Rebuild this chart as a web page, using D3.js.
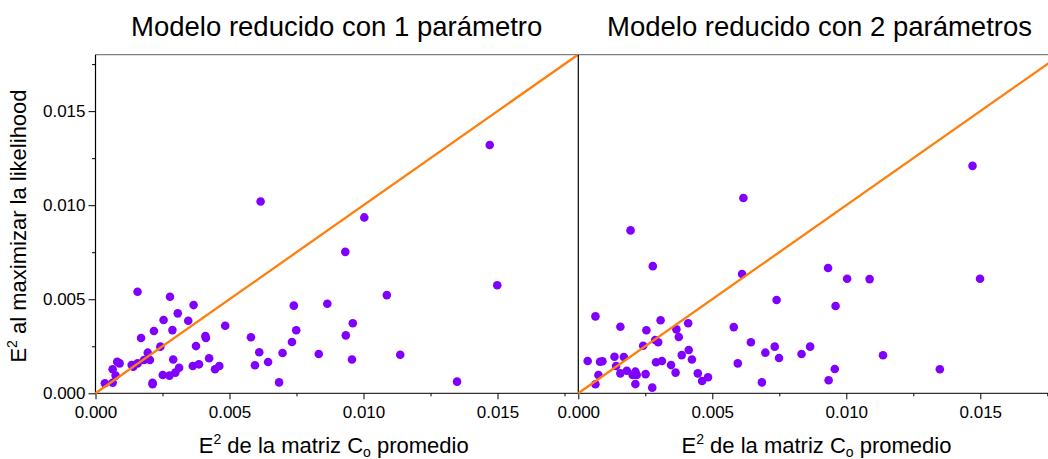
<!DOCTYPE html>
<html>
<head>
<meta charset="utf-8">
<script src="https://cdn.jsdelivr.net/npm/d3@7"></script>
<style>
  html, body { margin: 0; padding: 0; background: #fff; }
  svg { display: block; font-family: "Liberation Sans", Arial, sans-serif; }
</style>
</head>
<body>
<svg id="chart" width="1048" height="459"></svg>
<script>
// Squared error of the averaged C_o matrix (shared x for both panels)
const errMatriz = [
  0.00035, 0.00064, 0.00064, 0.00075, 0.00081, 0.00090, 0.00135, 0.00141, 0.00157, 0.00157,
  0.00170, 0.00181, 0.00195, 0.00203, 0.00213, 0.00213, 0.00218, 0.00242, 0.00251, 0.00254,
  0.00276, 0.00278, 0.00287, 0.00290, 0.00298, 0.00307, 0.00312, 0.00346, 0.00363, 0.00366,
  0.00375, 0.00386, 0.00410, 0.00412, 0.00424, 0.00446, 0.00462, 0.00484, 0.00580, 0.00595,
  0.00611, 0.00616, 0.00644, 0.00685, 0.00698, 0.00733, 0.00740, 0.00749, 0.00833, 0.00865,
  0.00932, 0.00934, 0.00960, 0.00957, 0.01003, 0.01087, 0.01137, 0.01349, 0.01471, 0.01499
];
// Squared error after maximizing the likelihood, 1-parameter reduced model
const errLik1 = [
  0.00053, 0.00056, 0.00128, 0.00094, 0.00168, 0.00159, 0.00150, 0.00141, 0.00159, 0.00540,
  0.00294, 0.00177, 0.00216, 0.00177, 0.00056, 0.00048, 0.00331, 0.00248, 0.00097, 0.00390,
  0.00094, 0.00513, 0.00336, 0.00180, 0.00110, 0.00425, 0.00136, 0.00386, 0.00145, 0.00469,
  0.00251, 0.00154, 0.00304, 0.00294, 0.00186, 0.00128, 0.00145, 0.00359, 0.00298, 0.00149,
  0.00218, 0.01020, 0.00166, 0.00058, 0.00214, 0.00273, 0.00466, 0.00335, 0.00209, 0.00476,
  0.00752, 0.00308, 0.00372, 0.00180, 0.00935, 0.00522, 0.00205, 0.00062, 0.01320, 0.00574
];
// Squared error after maximizing the likelihood, 2-parameter reduced model
const errLik2 = [
  0.00172, 0.00048, 0.00409, 0.00097, 0.00168, 0.00170, 0.00194, 0.00145, 0.00354, 0.00106,
  0.00193, 0.00120, 0.00866, 0.00097, 0.00049, 0.00115, 0.00097, 0.00253, 0.00102, 0.00335,
  0.00030, 0.00676, 0.00283, 0.00165, 0.00271, 0.00388, 0.00172, 0.00150, 0.00110, 0.00340,
  0.00299, 0.00203, 0.00372, 0.00230, 0.00180, 0.00106, 0.00065, 0.00085, 0.00352, 0.00159,
  0.00634, 0.01038, 0.00271, 0.00058, 0.00216, 0.00248, 0.00496, 0.00188, 0.00209, 0.00248,
  0.00666, 0.00069, 0.00464, 0.00129, 0.00609, 0.00607, 0.00202, 0.00128, 0.01209, 0.00609
];
const panelTitles = ["Modelo reducido con 1 parámetro", "Modelo reducido con 2 parámetros"];
const majorTicks = [0, 0.005, 0.010, 0.015];
const minorTicks = [0.0025, 0.0075, 0.0125, 0.0175];
const domainMax = 0.018;

const svg = d3.select("#chart");
const dotColor = "#7f00ff";
const lineColor = "#ff7f0e";
const plotTop = 54.7, plotBottom = 393.3;
const panelLeft = [95.5, 578.3];
const panelWidth = 482.4;
const fontFamily = "Liberation Sans, Arial, sans-serif";

const y = d3.scaleLinear().domain([0, domainMax]).range([plotBottom, plotTop]);

const panels = [
  { ys: errLik1, title: panelTitles[0] },
  { ys: errLik2, title: panelTitles[1] }
];

panels.forEach((p, i) => {
  const x0 = panelLeft[i];
  const x = d3.scaleLinear().domain([0, domainMax]).range([x0, x0 + panelWidth]);
  const g = svg.append("g");

  // frame: grey top edge
  g.append("line")
    .attr("x1", x0).attr("x2", x0 + panelWidth)
    .attr("y1", plotTop).attr("y2", plotTop)
    .attr("stroke", "#808080").attr("stroke-width", 1.2);

  // bottom axis, major + minor ticks
  const xMajor = d3.axisBottom(x).tickValues(majorTicks).tickFormat(d3.format(".3f"))
    .tickSize(6).tickPadding(7);
  const xMinor = d3.axisBottom(x).tickValues(minorTicks).tickFormat("").tickSize(3).tickSizeOuter(0);
  const gx = g.append("g").attr("transform", `translate(0,${plotBottom})`).call(xMajor);
  g.append("g").attr("transform", `translate(0,${plotBottom})`).call(xMinor).select(".domain").remove();
  gx.select(".domain").attr("d", `M${x0},0H${x0 + panelWidth}`);
  gx.selectAll("text").attr("font-size", 17).attr("fill", "#000").attr("font-family", fontFamily);

  // left axis line
  g.append("line")
    .attr("x1", x0).attr("x2", x0).attr("y1", plotTop).attr("y2", plotBottom)
    .attr("stroke", "#000").attr("stroke-width", 1.2);

  if (i === 0) {
    const yMajor = d3.axisLeft(y).tickValues(majorTicks).tickFormat(d3.format(".3f"))
      .tickSize(7).tickPadding(3);
    const yMinor = d3.axisLeft(y).tickValues(minorTicks).tickFormat("").tickSize(3.5);
    const gy = g.append("g").attr("transform", `translate(${x0},0)`).call(yMajor);
    gy.select(".domain").remove();
    gy.selectAll("text").attr("font-size", 17).attr("fill", "#000").attr("font-family", fontFamily);
    g.append("g").attr("transform", `translate(${x0},0)`).call(yMinor).select(".domain").remove();
  }

  // points
  g.append("g").selectAll("circle")
    .data(errMatriz.map((v, k) => [v, p.ys[k]]))
    .join("circle")
    .attr("cx", d => x(d[0]))
    .attr("cy", d => y(d[1]))
    .attr("r", 4.3)
    .attr("fill", dotColor);

  // identity line y = x
  g.append("line")
    .attr("x1", x(0)).attr("y1", y(0))
    .attr("x2", x(domainMax)).attr("y2", y(domainMax))
    .attr("stroke", lineColor).attr("stroke-width", 2.3);

  // panel title
  g.append("text")
    .attr("x", x0 + panelWidth / 2).attr("y", 36)
    .attr("text-anchor", "middle").attr("font-size", 27.5).attr("fill", "#000")
    .text(p.title);

  // x axis title with superscript/subscript
  const xt = g.append("text")
    .attr("x", x0 + panelWidth / 2 - 3).attr("y", 453)
    .attr("text-anchor", "middle").attr("font-size", 22).attr("fill", "#000");
  xt.append("tspan").text("E");
  xt.append("tspan").attr("font-size", 14).attr("dy", -9).text("2");
  xt.append("tspan").attr("dy", 9).text(" de la matriz C");
  xt.append("tspan").attr("font-size", 14).attr("dy", 4).text("o");
  xt.append("tspan").attr("dy", -4).text(" promedio");
});

// y axis title
const yt = svg.append("text")
  .attr("transform", `translate(25.5,${(plotTop + plotBottom) / 2 + 2}) rotate(-90)`)
  .attr("text-anchor", "middle").attr("font-size", 22).attr("fill", "#000");
yt.append("tspan").text("E");
yt.append("tspan").attr("font-size", 14).attr("dy", -9).text("2");
yt.append("tspan").attr("dy", 9).text(" al maximizar la likelihood");
</script>
</body>
</html>
